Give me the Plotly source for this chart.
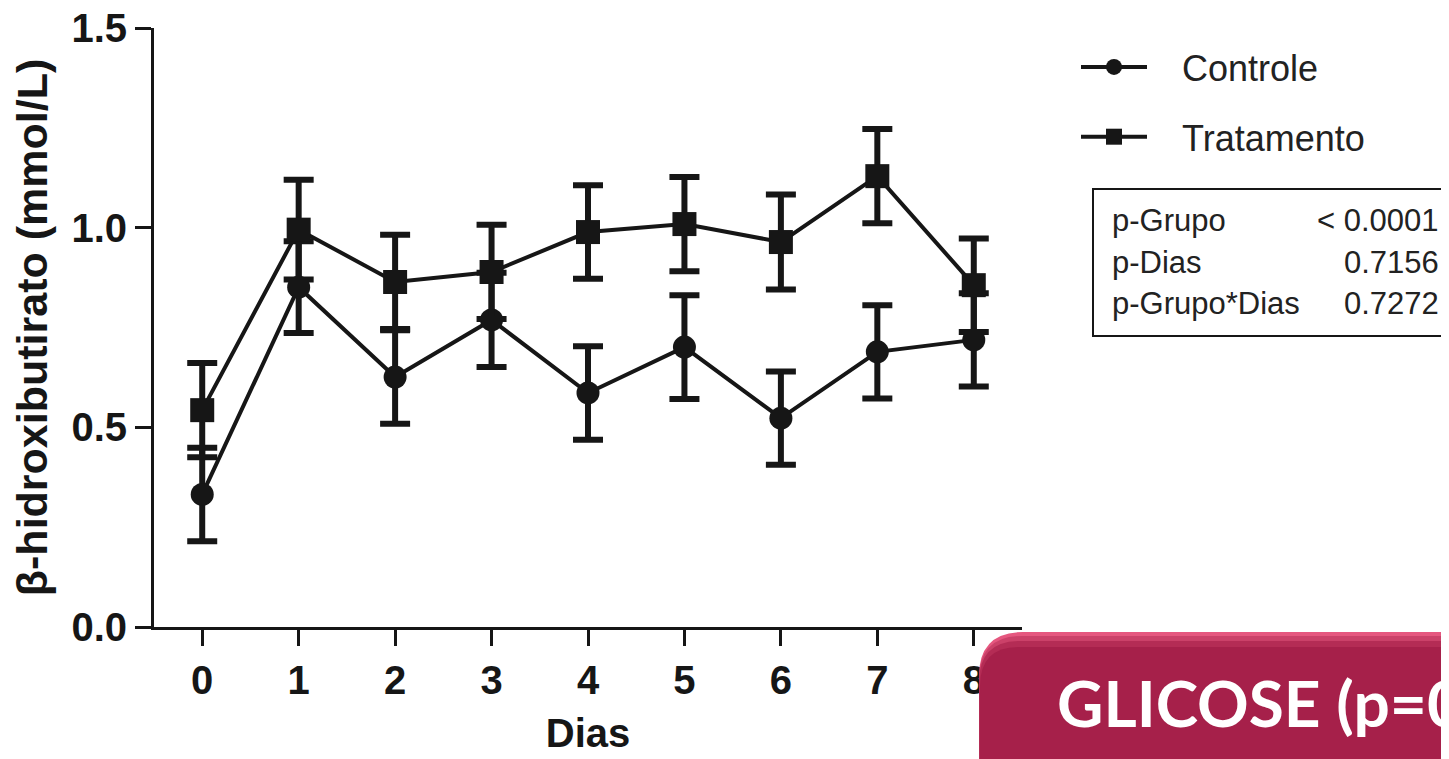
import plotly.graph_objects as go

dias = [0, 1, 2, 3, 4, 5, 6, 7, 8]
controle_mean = [0.332, 0.851, 0.626, 0.769, 0.586, 0.701, 0.523, 0.689, 0.719]
controle_sem = [0.117, 0.115, 0.117, 0.118, 0.117, 0.130, 0.117, 0.117, 0.117]
trat_mean = [0.543, 0.995, 0.864, 0.889, 0.989, 1.009, 0.964, 1.129, 0.856]
trat_sem = [0.118, 0.125, 0.118, 0.118, 0.117, 0.118, 0.119, 0.118, 0.117]
y_ticks = [0.0, 0.5, 1.0, 1.5]
y_ticklabels = ["0.0", "0.5", "1.0", "1.5"]
stats_labels = ["p-Grupo", "p-Dias", "p-Grupo*Dias"]
stats_values = ["< 0.0001", "0.7156", "0.7272"]

# the page shows the figure with an 8px body margin
OFF = 8
W, H = 1449 - OFF, 759 - OFF
L, R, T, B = 154, 1022, 28, 627  # plot area in page pixels
FONT = "Liberation Sans, Arial, sans-serif"
INK = "#161616"


def xp(px):
    return (px - L) / (R - L)


def yp(py):
    return (B - py) / (B - T)


fig = go.Figure()
fig.add_trace(go.Scatter(
    x=dias, y=controle_mean, name="\u00a0\u00a0\u00a0Controle", legendgroup="c",
    mode="lines+markers",
    line=dict(color=INK, width=4),
    marker=dict(symbol="circle", size=23, color=INK),
    error_y=dict(type="data", array=controle_sem, visible=True,
                 color=INK, thickness=6, width=15),
))
fig.add_trace(go.Scatter(
    x=dias, y=trat_mean, name="\u00a0\u00a0\u00a0Tratamento", legendgroup="t",
    mode="lines+markers",
    line=dict(color=INK, width=4),
    marker=dict(symbol="square", size=24, color=INK),
    error_y=dict(type="data", array=trat_sem, visible=True,
                 color=INK, thickness=6, width=15),
))

shapes = []
shapes.append(dict(type="rect", xref="paper", yref="paper",
                   x0=xp(1093), x1=xp(1470), y0=yp(336), y1=yp(189),
                   line=dict(color=INK, width=2), fillcolor="rgba(0,0,0,0)"))


def rounded(x0, y0, x1, y1, r):
    return (f"M {xp(x0)},{yp(y0 + r)} "
            f"Q {xp(x0)},{yp(y0)} {xp(x0 + r)},{yp(y0)} "
            f"L {xp(x1)},{yp(y0)} L {xp(x1)},{yp(y1)} L {xp(x0)},{yp(y1)} Z")


shapes.append(dict(type="path", xref="paper", yref="paper", layer="above",
                   path=rounded(982, 635, 1480, 800, 44),
                   fillcolor="rgba(120,120,120,0.30)", line=dict(width=0)))
shapes.append(dict(type="path", xref="paper", yref="paper", layer="above",
                   path=rounded(979, 632, 1480, 800, 44),
                   fillcolor="#E5577F", line=dict(width=0)))
shapes.append(dict(type="path", xref="paper", yref="paper", layer="above",
                   path=rounded(979, 636, 1480, 800, 43),
                   fillcolor="#CB4169", line=dict(width=0)))
shapes.append(dict(type="path", xref="paper", yref="paper", layer="above",
                   path=rounded(979, 641, 1480, 800, 41),
                   fillcolor="#B42C55", line=dict(width=0)))
shapes.append(dict(type="path", xref="paper", yref="paper", layer="above",
                   path=rounded(980, 647, 1480, 800, 39),
                   fillcolor="#A6204A", line=dict(width=0)))

annotations = []
row_y = [220, 262, 303]
for lab, val, ry in zip(stats_labels, stats_values, row_y):
    annotations.append(dict(xref="paper", yref="paper", x=xp(1110), y=yp(ry),
                            text=lab, showarrow=False, xanchor="left", yanchor="middle",
                            font=dict(family=FONT, size=31, color="#222")))
    annotations.append(dict(xref="paper", yref="paper", x=xp(1441), y=yp(ry),
                            text=val, showarrow=False, xanchor="right", yanchor="middle",
                            font=dict(family=FONT, size=31, color="#222")))
annotations.append(dict(xref="paper", yref="paper", x=xp(1055), y=yp(702),
                        text="GLICOSE (p=0", showarrow=False, xanchor="left",
                        yanchor="middle",
                        font=dict(family="Lato, Open Sans, sans-serif", size=64,
                                  color="white", weight="bold")))

fig.update_layout(
    width=W, height=H,
    margin=dict(l=L - OFF, r=W - (R - OFF), t=T - OFF, b=H - (B - OFF)),
    paper_bgcolor="white", plot_bgcolor="white",
    showlegend=True,
    legend=dict(x=xp(1076), y=yp(37), xanchor="left", yanchor="top",
                font=dict(family=FONT, size=36, color="#222"),
                tracegroupgap=20, itemwidth=66, bgcolor="rgba(0,0,0,0)",
                traceorder="grouped"),
    xaxis=dict(range=[-0.5, 8.5], tickvals=dias, ticktext=[str(d) for d in dias],
               showline=True, linecolor=INK, linewidth=3,
               ticks="outside", ticklen=16, tickwidth=3, tickcolor=INK,
               showgrid=False, zeroline=False, ticklabeloverflow="allow",
               automargin=False,
               tickfont=dict(family=FONT, size=40, color=INK, weight="bold"),
               title=dict(text="Dias", standoff=18,
                          font=dict(family=FONT, size=40, color=INK, weight="bold"))),
    yaxis=dict(range=[0, 1.5], tickvals=y_ticks, ticktext=y_ticklabels,
               showline=True, linecolor=INK, linewidth=3,
               ticks="outside", ticklen=16, tickwidth=3, tickcolor=INK,
               showgrid=False, zeroline=False, ticklabeloverflow="allow",
               automargin=False,
               tickfont=dict(family=FONT, size=40, color=INK, weight="bold"),
               title=dict(text="β-hidroxibutirato (mmol/L)", standoff=12,
                          font=dict(family=FONT, size=43, color=INK, weight="bold"))),
    shapes=shapes, annotations=annotations,
)

fig.write_html("out.html")
